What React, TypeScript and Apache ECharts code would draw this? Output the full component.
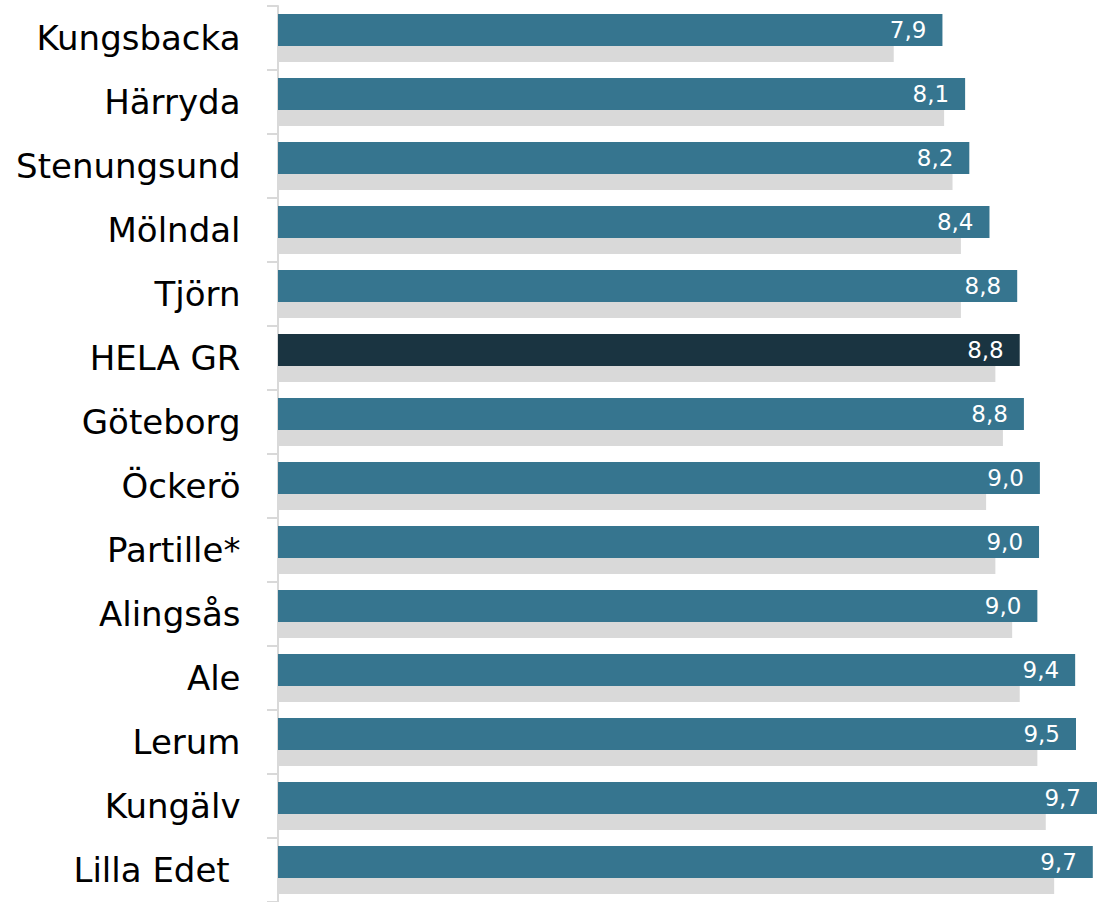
import React, { useEffect, useRef } from "react";
import * as echarts from "echarts";

const categories = [
  "Kungsbacka",
  "Härryda",
  "Stenungsund",
  "Mölndal",
  "Tjörn",
  "HELA GR",
  "Göteborg",
  "Öckerö",
  "Partille*",
  "Alingsås",
  "Ale",
  "Lerum",
  "Kungälv",
  "Lilla Edet ",
];

const currentValues = [7.91, 8.18, 8.23, 8.47, 8.8, 8.83, 8.88, 9.07, 9.06, 9.04, 9.49, 9.5, 9.75, 9.7];
const previousValues = [7.33, 7.93, 8.03, 8.13, 8.13, 8.54, 8.63, 8.43, 8.54, 8.74, 8.83, 9.04, 9.14, 9.24];

const highlightCategory = "HELA GR";

const BLUE = "#36758f";
const DARK = "#1a3441";
const GREY = "#d9d9d9";

export default function App() {
  const ref = useRef<HTMLDivElement>(null);

  useEffect(() => {
    if (!ref.current) return;
    const chart = echarts.init(ref.current, null, { renderer: "svg" });
    const option = {
      animation: false,
      grid: { left: 278, top: 6, width: 819, height: 900, containLabel: false },
      xAxis: {
        type: "value",
        min: 0,
        max: 9.75,
        show: false,
        splitLine: { show: false },
      },
      yAxis: {
        type: "category",
        inverse: true,
        offset: 1.5,
        data: categories,
        axisLine: { show: true, lineStyle: { color: GREY, width: 2 } },
        axisTick: { show: true, length: 11, lineStyle: { color: GREY, width: 2 } },
        axisLabel: {
          fontFamily: "DejaVu Sans",
          fontSize: 34,
          color: "#000",
          margin: 36,
        },
        splitLine: { show: false },
      },
      series: [
        {
          name: "current",
          type: "bar",
          barWidth: 32,
          barGap: "-50%",
          z: 3,
          data: currentValues.map((v, i) => ({
            value: v,
            itemStyle: { color: categories[i] === highlightCategory ? DARK : BLUE },
          })),
          label: {
            show: true,
            position: "insideRight",
            distance: 16,
            color: "#fff",
            fontFamily: "DejaVu Sans",
            fontSize: 23,
            formatter: (p: any) =>
              (Math.floor(p.value * 10 + 1e-6) / 10).toFixed(1).replace(".", ","),
          },
        },
        {
          name: "previous",
          type: "bar",
          barWidth: 32,
          barGap: "-50%",
          z: 2,
          data: previousValues,
          itemStyle: { color: GREY },
        },
      ],
    };
    chart.setOption(option as any);
    return () => chart.dispose();
  }, []);

  return (
    <div
      ref={ref}
      style={{ position: "absolute", left: 0, top: 0, width: 1097, height: 902, background: "#fff" }}
    />
  );
}
